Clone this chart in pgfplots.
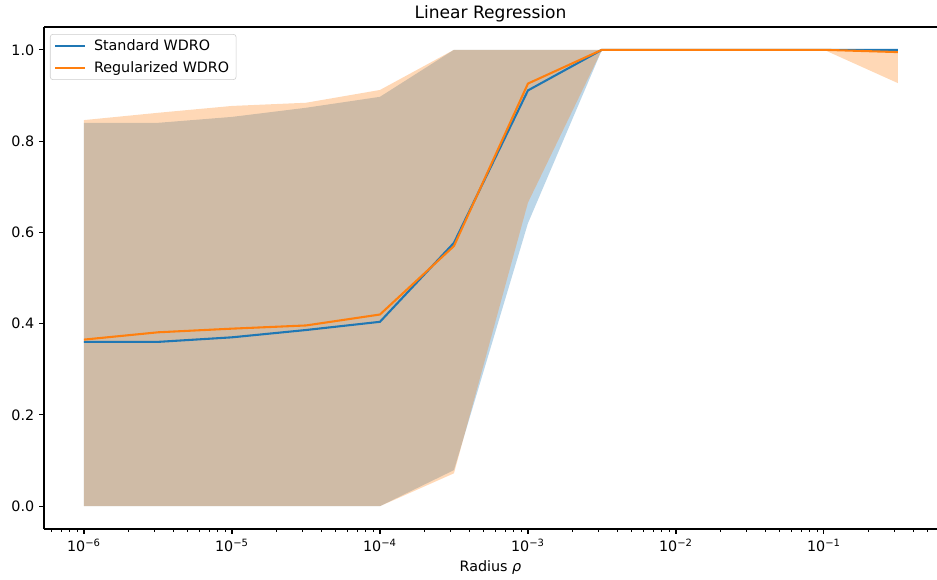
\documentclass[border=0pt]{standalone}
\usepackage{fontspec}
\setmainfont{DejaVu Sans}
\usepackage{pgfplots}
\pgfplotsset{compat=1.18}
\usepgfplotslibrary{fillbetween}
\definecolor{mplblue}{HTML}{1F77B4}
\definecolor{mplorange}{HTML}{FF7F0E}
\begin{document}
\begin{tikzpicture}
\begin{axis}[
  scale only axis,
  width=642.96pt, height=361.44pt,
  xmode=log,
  xmin=5.37e-7, xmax=0.5808,
  ymin=-0.05, ymax=1.05,
  axis x line*=box, axis y line*=left,
  xtick pos=bottom, ytick pos=left,
  tick align=outside,
  major tick length=3.5pt, minor tick length=2pt,
  every tick/.style={black, line width=0.8pt},
  every minor tick/.style={black, line width=0.6pt},
  axis line style={line width=0.8pt},
  xtick={1e-6,1e-5,1e-4,1e-3,1e-2,1e-1},
  xticklabels={10\textsuperscript{−6},10\textsuperscript{−5},10\textsuperscript{−4},10\textsuperscript{−3},10\textsuperscript{−2},10\textsuperscript{−1}},
  minor xtick={6e-7,7e-7,8e-7,9e-7,
    2e-6,3e-6,4e-6,5e-6,6e-6,7e-6,8e-6,9e-6,
    2e-5,3e-5,4e-5,5e-5,6e-5,7e-5,8e-5,9e-5,
    2e-4,3e-4,4e-4,5e-4,6e-4,7e-4,8e-4,9e-4,
    2e-3,3e-3,4e-3,5e-3,6e-3,7e-3,8e-3,9e-3,
    2e-2,3e-2,4e-2,5e-2,6e-2,7e-2,8e-2,9e-2,
    2e-1,3e-1,4e-1,5e-1},
  ytick={0,0.2,0.4,0.6,0.8,1.0},
  yticklabel style={/pgf/number format/.cd, fixed, fixed zerofill, precision=1},
  /pgf/number format/assume math mode=true,
  tick label style={font=\fontsize{10.3}{12}\selectfont},
  title={Linear Regression},
  title style={font=\fontsize{12.3}{14}\selectfont, yshift=-6pt},
  xlabel={Radius {\itshape ρ}},
  xlabel style={font=\fontsize{10.3}{12}\selectfont},
  legend style={at={(0.0067,0.986)}, anchor=north west, draw=black!20,
    rounded corners=2pt, font=\fontsize{10.3}{12}\selectfont,
    inner xsep=3pt, inner ysep=2pt, row sep=2pt},
  legend cell align=left,
  legend image code/.code={\draw[#1] (0pt,0pt) -- (21pt,0pt); \path (25pt,0pt);},
]
% Standard WDRO band
\addplot[draw=none, name path=bu, forget plot] coordinates {
(1e-6,0.840)(3.1623e-6,0.840)(1e-5,0.853)(3.1623e-5,0.873)(1e-4,0.897)(3.1623e-4,1.0)
(1e-3,1.0)(3.1623e-3,1.0)(1e-2,1.0)(3.1623e-2,1.0)(1e-1,1.0)(3.1623e-1,1.0)};
\addplot[draw=none, name path=bl, forget plot] coordinates {
(1e-6,0)(3.1623e-6,0)(1e-5,0)(3.1623e-5,0)(1e-4,0)(3.1623e-4,0.079)
(1e-3,0.62)(3.1623e-3,1.0)(1e-2,1.0)(3.1623e-2,1.0)(1e-1,1.0)(3.1623e-1,1.0)};
\addplot[mplblue, fill opacity=0.3, draw=none, forget plot] fill between[of=bu and bl];
% Regularized WDRO band
\addplot[draw=none, name path=ou, forget plot] coordinates {
(1e-6,0.846)(3.1623e-6,0.862)(1e-5,0.877)(3.1623e-5,0.884)(1e-4,0.912)(3.1623e-4,1.0)
(1e-3,1.0)(3.1623e-3,1.0)(1e-2,1.0)(3.1623e-2,1.0)(1e-1,1.0)(3.1623e-1,1.0)};
\addplot[draw=none, name path=ol, forget plot] coordinates {
(1e-6,0)(3.1623e-6,0)(1e-5,0)(3.1623e-5,0)(1e-4,0)(3.1623e-4,0.072)
(1e-3,0.665)(3.1623e-3,1.0)(1e-2,1.0)(3.1623e-2,1.0)(1e-1,1.0)(3.1623e-1,0.927)};
\addplot[mplorange, fill opacity=0.3, draw=none, forget plot] fill between[of=ou and ol];
% means
\addplot[mplblue, line width=1.5pt] coordinates {
(1e-6,0.360)(3.1623e-6,0.360)(1e-5,0.370)(3.1623e-5,0.386)(1e-4,0.404)(3.1623e-4,0.577)
(1e-3,0.911)(3.1623e-3,1.0)(1e-2,1.0)(3.1623e-2,1.0)(1e-1,1.0)(3.1623e-1,1.0)};
\addlegendentry{Standard WDRO}
\addplot[mplorange, line width=1.5pt] coordinates {
(1e-6,0.365)(3.1623e-6,0.381)(1e-5,0.389)(3.1623e-5,0.396)(1e-4,0.420)(3.1623e-4,0.570)
(1e-3,0.926)(3.1623e-3,1.0)(1e-2,1.0)(3.1623e-2,1.0)(1e-1,1.0)(3.1623e-1,0.995)};
\addlegendentry{Regularized WDRO}
\end{axis}
\pgfresetboundingbox
\path ([xshift=-31.68pt,yshift=-36.72pt]current axis.south west) rectangle ([yshift=19.44pt]current axis.north east);
\end{tikzpicture}
\end{document}
